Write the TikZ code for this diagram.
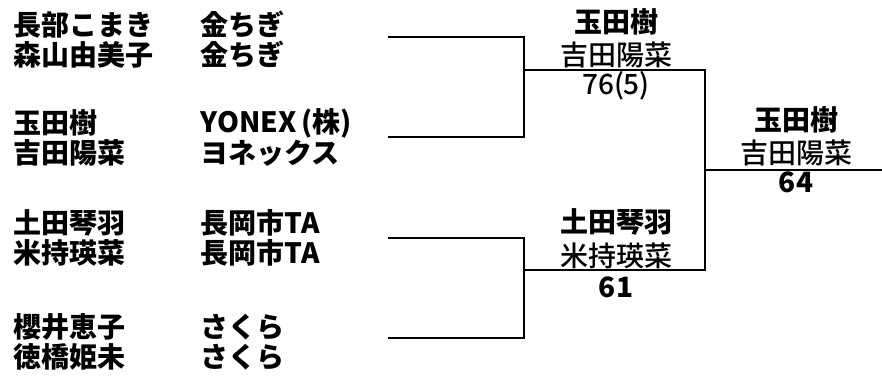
\documentclass[tikz,border=0pt]{standalone}
\usepackage{fontspec}
\setmainfont{Noto Sans CJK JP}
\newfontfamily\jpmedium{Noto Sans CJK JP Medium}

\begin{document}
\begin{tikzpicture}[x=1pt,y=-1pt,
        line width=1.2pt,
        nameNode/.style = {anchor=west,inner sep=0pt,font=\fontsize{28}{28}\selectfont\bfseries},
        clubNode/.style = {anchor=west,inner sep=0pt,font=\fontsize{28}{28}\selectfont\bfseries},
        winNode/.style = {inner sep=0pt,font=\fontsize{28}{28}\selectfont\bfseries}, % upper name of winning pair
        mateNode/.style = {inner sep=0pt,font=\fontsize{28}{28}\jpmedium}, % lower name of winning pair
        scoreNode/.style = {inner sep=0pt,font=\fontsize{28}{28}\selectfont\bfseries}
        ]
        \useasboundingbox (0,0) rectangle (882,376);
        % entries
        \node[nameNode] (p1a) at (13,25) {長部こまき};
        \node[nameNode] (p1b) at (13,55) {森山由美子};
        \node[clubNode] (c1a) at (200,25) {金ちぎ};
        \node[clubNode] (c1b) at (200,55) {金ちぎ};
        \node[nameNode] (p2a) at (13,123) {玉田樹};
        \node[nameNode] (p2b) at (13,153) {吉田陽菜};
        \node[clubNode] (c2a) at (200,123) {YONEX\,(株)};
        \node[clubNode] (c2b) at (200,153) {ヨネックス};
        \node[nameNode] (p3a) at (13,223) {土田琴羽};
        \node[nameNode] (p3b) at (13,253) {米持瑛菜};
        \node[clubNode] (c3a) at (200,223) {長岡市TA};
        \node[clubNode] (c3b) at (200,253) {長岡市TA};
        \node[nameNode] (p4a) at (13,327) {櫻井恵子};
        \node[nameNode] (p4b) at (13,357) {徳橋姫未};
        \node[clubNode] (c4a) at (200,327) {さくら};
        \node[clubNode] (c4b) at (200,357) {さくら};
        % bracket
        \coordinate (e1) at (388,37);
        \coordinate (e2) at (388,137);
        \coordinate (e3) at (388,238);
        \coordinate (e4) at (388,338);
        \coordinate (j1) at (524,70);
        \coordinate (j2) at (524,270);
        \coordinate (j3) at (705,170);
        \coordinate (fin) at (882,170);
        \draw (e1) -| (j1) |- (e2);
        \draw (e3) -| (j2) |- (e4);
        \draw (j1) -| (j3);
        \draw (j2) -| (j3);
        \draw (j3) -- (fin);
        % results
        \node[winNode] (w1a) at (616,22) {玉田樹};
        \node[mateNode] (w1b) at (616,55) {吉田陽菜};
        \node[mateNode] (s1) at (616,86) {76(5)};
        \node[winNode] (w2a) at (616,222) {土田琴羽};
        \node[mateNode] (w2b) at (616,256) {米持瑛菜};
        \node[scoreNode] (s2) at (616,287) {61};
        \node[winNode] (w3a) at (796,120) {玉田樹};
        \node[mateNode] (w3b) at (796,153) {吉田陽菜};
        \node[scoreNode] (s3) at (796,182) {64};
\end{tikzpicture}
\end{document}
